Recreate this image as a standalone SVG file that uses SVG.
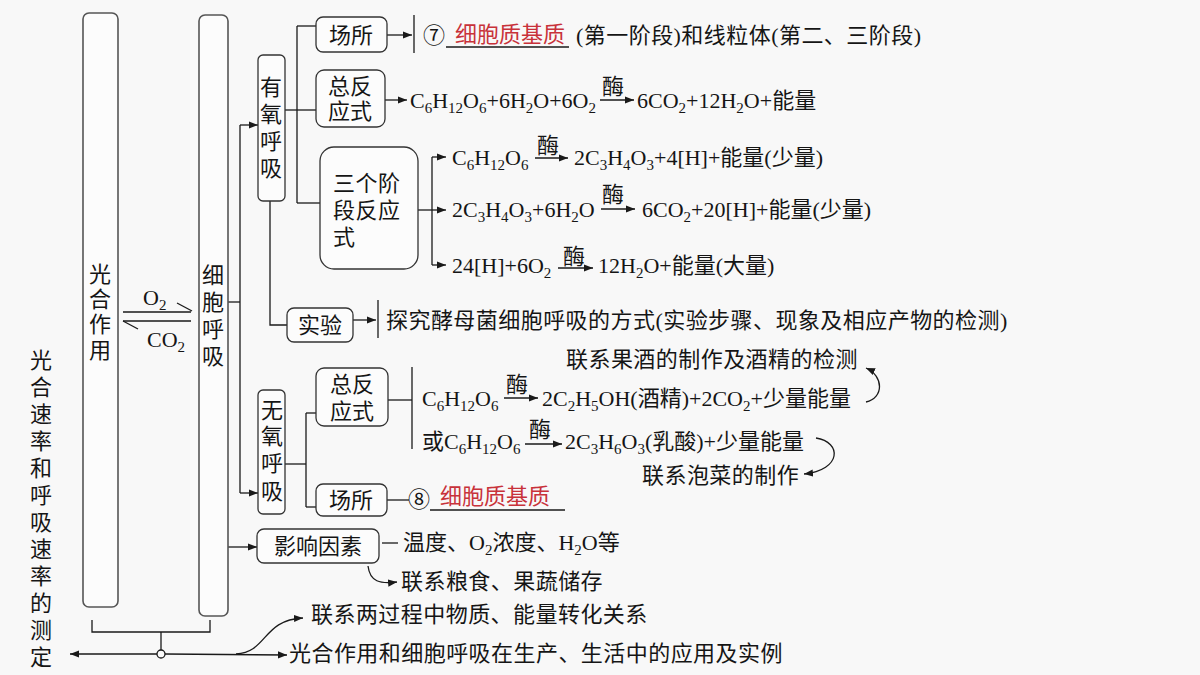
<svg xmlns="http://www.w3.org/2000/svg" width="1200" height="675" viewBox="0 0 1200 675">
<style>
.t{font-family:"Liberation Serif","Noto Sans CJK SC",serif;font-size:22px;fill:#151515}
.m{text-anchor:middle}
.w{letter-spacing:0.45px}
.s{font-size:15px}
.red{fill:#c8323a}
.box{fill:#fcfcfc;stroke:#333;stroke-width:1.3}
.tall{fill:#fcfcfc;stroke:#555;stroke-width:1.6}
.ln{fill:none;stroke:#1a1a1a;stroke-width:1.3}
</style>
<defs>
<marker id="a" viewBox="0 0 10 10" refX="10" refY="5" markerWidth="9" markerHeight="9" markerUnits="userSpaceOnUse" orient="auto">
<path d="M0,1 L10,5 L0,9 z" fill="#1a1a1a"/>
</marker>
</defs>
<rect width="1200" height="675" fill="#f8f8f8"/>

<g id="connectors">
<line class="ln" x1="123" y1="312" x2="191" y2="312"/>
<line class="ln" x1="177" y1="303" x2="192" y2="311"/>
<line class="ln" x1="123" y1="321" x2="191" y2="321"/>
<line class="ln" x1="123" y1="321" x2="138" y2="329"/>
<polyline class="ln" points="92,620 92,632 210,632 210,620"/>
<line class="ln" x1="161" y1="632" x2="161" y2="650"/>
<line class="ln" x1="157" y1="654" x2="70" y2="654" marker-end="url(#a)"/>
<line class="ln" x1="165" y1="654" x2="287" y2="655" marker-end="url(#a)"/>
<path class="ln" d="M236,654 C268,652 262,620 303,618" marker-end="url(#a)"/>
<line class="ln" x1="228" y1="302" x2="240" y2="302"/>
<line class="ln" x1="240" y1="125" x2="240" y2="493"/>
<line class="ln" x1="240" y1="125" x2="258" y2="125" marker-end="url(#a)"/>
<line class="ln" x1="240" y1="493" x2="258" y2="493" marker-end="url(#a)"/>
<line class="ln" x1="228" y1="547" x2="257" y2="547" marker-end="url(#a)"/>
<line class="ln" x1="285" y1="110" x2="297" y2="110"/>
<line class="ln" x1="297" y1="26" x2="297" y2="203"/>
<line class="ln" x1="297" y1="26" x2="316" y2="26"/>
<line class="ln" x1="297" y1="110" x2="316" y2="110"/>
<line class="ln" x1="297" y1="203" x2="320" y2="203"/>
<polyline class="ln" points="270,201 270,325 287,325"/>
<line class="ln" x1="387" y1="35" x2="412" y2="35" marker-end="url(#a)"/>
<line class="ln" x1="414" y1="15" x2="414" y2="53"/>
<line class="ln" x1="446" y1="47" x2="569" y2="47"/>
<line class="ln" x1="385" y1="100" x2="407" y2="100" marker-end="url(#a)"/>
<line class="ln" x1="600" y1="100" x2="634" y2="100" marker-end="url(#a)"/>
<line class="ln" x1="418" y1="210" x2="432" y2="210"/>
<line class="ln" x1="432" y1="157" x2="432" y2="265"/>
<line class="ln" x1="432" y1="157" x2="446" y2="157" marker-end="url(#a)"/>
<line class="ln" x1="432" y1="210" x2="446" y2="210" marker-end="url(#a)"/>
<line class="ln" x1="432" y1="265" x2="446" y2="265" marker-end="url(#a)"/>
<line class="ln" x1="535" y1="158" x2="568" y2="158" marker-end="url(#a)"/>
<line class="ln" x1="601" y1="209" x2="635" y2="209" marker-end="url(#a)"/>
<line class="ln" x1="558" y1="268" x2="593" y2="268" marker-end="url(#a)"/>
<line class="ln" x1="353" y1="320" x2="376" y2="320" marker-end="url(#a)"/>
<line class="ln" x1="378" y1="300" x2="378" y2="338"/>
<line class="ln" x1="285" y1="464" x2="306" y2="464"/>
<line class="ln" x1="306" y1="413" x2="306" y2="507"/>
<line class="ln" x1="306" y1="413" x2="316" y2="413"/>
<line class="ln" x1="306" y1="507" x2="316" y2="507"/>
<line class="ln" x1="388" y1="400" x2="412" y2="400"/>
<line class="ln" x1="412" y1="367" x2="412" y2="449"/>
<line class="ln" x1="504" y1="398" x2="538" y2="398" marker-end="url(#a)"/>
<line class="ln" x1="525" y1="444" x2="562" y2="444" marker-end="url(#a)"/>
<path class="ln" d="M866,402 C884,398 884,376 866,368" marker-end="url(#a)"/>
<path class="ln" d="M816,438 C842,442 842,470 804,474" marker-end="url(#a)"/>
<line class="ln" x1="387" y1="500" x2="409" y2="500"/>
<line class="ln" x1="430" y1="510" x2="565" y2="510"/>
<line class="ln" x1="382" y1="543" x2="398" y2="543"/>
<path class="ln" d="M368,566 C370,582 380,584 397,582" marker-end="url(#a)"/>
<circle cx="161" cy="654" r="4" fill="#fcfcfc" stroke="#1a1a1a" stroke-width="1.3"/>
</g>

<g id="photosynthesis">
<rect class="tall" x="83" y="13" width="35" height="594" rx="6"/>
<text class="t m"><tspan x="100" y="282">光</tspan><tspan x="100" y="307">合</tspan><tspan x="100" y="332">作</tspan><tspan x="100" y="358">用</tspan></text>
</g>

<g id="exchange-labels">
<text class="t" x="143" y="305">O<tspan class="s" dy="5">2</tspan></text>
<text class="t" x="147" y="347">CO<tspan class="s" dy="5">2</tspan></text>
</g>

<g id="cell-respiration">
<rect class="tall" x="199" y="15" width="29" height="601" rx="6"/>
<text class="t m"><tspan x="213" y="283">细</tspan><tspan x="213" y="310">胞</tspan><tspan x="213" y="337">呼</tspan><tspan x="213" y="364">吸</tspan></text>
</g>

<g id="measurement">
<text class="t m"><tspan x="41" y="368">光</tspan><tspan x="41" y="395">合</tspan><tspan x="41" y="422">速</tspan><tspan x="41" y="449">率</tspan><tspan x="41" y="476">和</tspan><tspan x="41" y="503">呼</tspan><tspan x="41" y="530">吸</tspan><tspan x="41" y="557">速</tspan><tspan x="41" y="584">率</tspan><tspan x="41" y="611">的</tspan><tspan x="41" y="638">测</tspan><tspan x="41" y="665">定</tspan></text>
</g>

<g id="aerobic">
<rect class="box" x="258" y="55" width="27" height="146" rx="5"/>
<text class="t m"><tspan x="271" y="95">有</tspan><tspan x="271" y="122">氧</tspan><tspan x="271" y="149">呼</tspan><tspan x="271" y="176">吸</tspan></text>
</g>

<g id="aerobic-site">
<rect class="box" x="316" y="17" width="71" height="35" rx="7"/>
<text class="t m" x="351" y="43">场所</text>
<text class="t" x="423" y="43">⑦</text>
<text class="t red" x="455" y="42">细胞质基质</text>
<text class="t w" x="576" y="43">(第一阶段)和线粒体(第二、三阶段)</text>
</g>

<g id="aerobic-total">
<rect class="box" x="316" y="70" width="69" height="57" rx="8"/>
<text class="t m"><tspan x="350" y="94">总反</tspan><tspan x="350" y="119">应式</tspan></text>
<text class="t" x="410" y="108">C<tspan class="s" dy="5">6</tspan><tspan dy="-5">H</tspan><tspan class="s" dy="5">12</tspan><tspan dy="-5">O</tspan><tspan class="s" dy="5">6</tspan><tspan dy="-5">+6H</tspan><tspan class="s" dy="5">2</tspan><tspan dy="-5">O+6O</tspan><tspan class="s" dy="5">2</tspan></text>
<text class="t m" x="613" y="94">酶</text>
<text class="t" x="637" y="108">6CO<tspan class="s" dy="5">2</tspan><tspan dy="-5">+12H</tspan><tspan class="s" dy="5">2</tspan><tspan dy="-5">O+能量</tspan></text>
</g>

<g id="three-stages">
<rect class="box" x="320" y="147" width="98" height="122" rx="14"/>
<text class="t w"><tspan x="333" y="191">三个阶</tspan><tspan x="333" y="218">段反应</tspan><tspan x="333" y="245">式</tspan></text>
<text class="t" x="452" y="165">C<tspan class="s" dy="5">6</tspan><tspan dy="-5">H</tspan><tspan class="s" dy="5">12</tspan><tspan dy="-5">O</tspan><tspan class="s" dy="5">6</tspan></text>
<text class="t m" x="548" y="153">酶</text>
<text class="t" x="574" y="165">2C<tspan class="s" dy="5">3</tspan><tspan dy="-5">H</tspan><tspan class="s" dy="5">4</tspan><tspan dy="-5">O</tspan><tspan class="s" dy="5">3</tspan><tspan dy="-5">+4[H]+能量(少量)</tspan></text>
<text class="t" x="452" y="217">2C<tspan class="s" dy="5">3</tspan><tspan dy="-5">H</tspan><tspan class="s" dy="5">4</tspan><tspan dy="-5">O</tspan><tspan class="s" dy="5">3</tspan><tspan dy="-5">+6H</tspan><tspan class="s" dy="5">2</tspan><tspan dy="-5">O</tspan></text>
<text class="t m" x="613" y="202">酶</text>
<text class="t" x="642" y="217">6CO<tspan class="s" dy="5">2</tspan><tspan dy="-5">+20[H]+能量(少量)</tspan></text>
<text class="t" x="452" y="273">24[H]+6O<tspan class="s" dy="5">2</tspan></text>
<text class="t m" x="574" y="264">酶</text>
<text class="t" x="598" y="273">12H<tspan class="s" dy="5">2</tspan><tspan dy="-5">O+能量(大量)</tspan></text>
</g>

<g id="experiment">
<rect class="box" x="287" y="308" width="66" height="34" rx="7"/>
<text class="t m" x="320" y="333">实验</text>
<text class="t w" x="386" y="328">探究酵母菌细胞呼吸的方式(实验步骤、现象及相应产物的检测)</text>
</g>

<g id="anaerobic">
<rect class="box" x="258" y="390" width="27" height="124" rx="5"/>
<text class="t m"><tspan x="272" y="418">无</tspan><tspan x="272" y="444">氧</tspan><tspan x="272" y="471">呼</tspan><tspan x="272" y="499">吸</tspan></text>
</g>

<g id="anaerobic-total">
<rect class="box" x="316" y="368" width="72" height="58" rx="8"/>
<text class="t m"><tspan x="352" y="392">总反</tspan><tspan x="352" y="419">应式</tspan></text>
<text class="t" x="422" y="406">C<tspan class="s" dy="5">6</tspan><tspan dy="-5">H</tspan><tspan class="s" dy="5">12</tspan><tspan dy="-5">O</tspan><tspan class="s" dy="5">6</tspan></text>
<text class="t m" x="517" y="392">酶</text>
<text class="t" x="542" y="406">2C<tspan class="s" dy="5">2</tspan><tspan dy="-5">H</tspan><tspan class="s" dy="5">5</tspan><tspan dy="-5">OH(酒精)+2CO</tspan><tspan class="s" dy="5">2</tspan><tspan dy="-5">+少量能量</tspan></text>
<text class="t" x="422" y="449">或C<tspan class="s" dy="5">6</tspan><tspan dy="-5">H</tspan><tspan class="s" dy="5">12</tspan><tspan dy="-5">O</tspan><tspan class="s" dy="5">6</tspan></text>
<text class="t m" x="540" y="437">酶</text>
<text class="t" x="565" y="449">2C<tspan class="s" dy="5">3</tspan><tspan dy="-5">H</tspan><tspan class="s" dy="5">6</tspan><tspan dy="-5">O</tspan><tspan class="s" dy="5">3</tspan><tspan dy="-5">(乳酸)+少量能量</tspan></text>
<text class="t w" x="566" y="367">联系果酒的制作及酒精的检测</text>
<text class="t w" x="642" y="483">联系泡菜的制作</text>
</g>

<g id="anaerobic-site">
<rect class="box" x="316" y="484" width="71" height="32" rx="7"/>
<text class="t m" x="351" y="508">场所</text>
<text class="t" x="408" y="507">⑧</text>
<text class="t red" x="440" y="504">细胞质基质</text>
</g>

<g id="factors">
<rect class="box" x="257" y="529" width="122" height="34" rx="7"/>
<text class="t m" x="318" y="554">影响因素</text>
<text class="t" x="403" y="550">温度、O<tspan class="s" dy="5">2</tspan><tspan dy="-5">浓度、H</tspan><tspan class="s" dy="5">2</tspan><tspan dy="-5">O等</tspan></text>
<text class="t w" x="401" y="589">联系粮食、果蔬储存</text>
</g>

<g id="relations">
<text class="t w" x="311" y="622">联系两过程中物质、能量转化关系</text>
<text class="t w" x="289" y="661">光合作用和细胞呼吸在生产、生活中的应用及实例</text>
</g>
</svg>
